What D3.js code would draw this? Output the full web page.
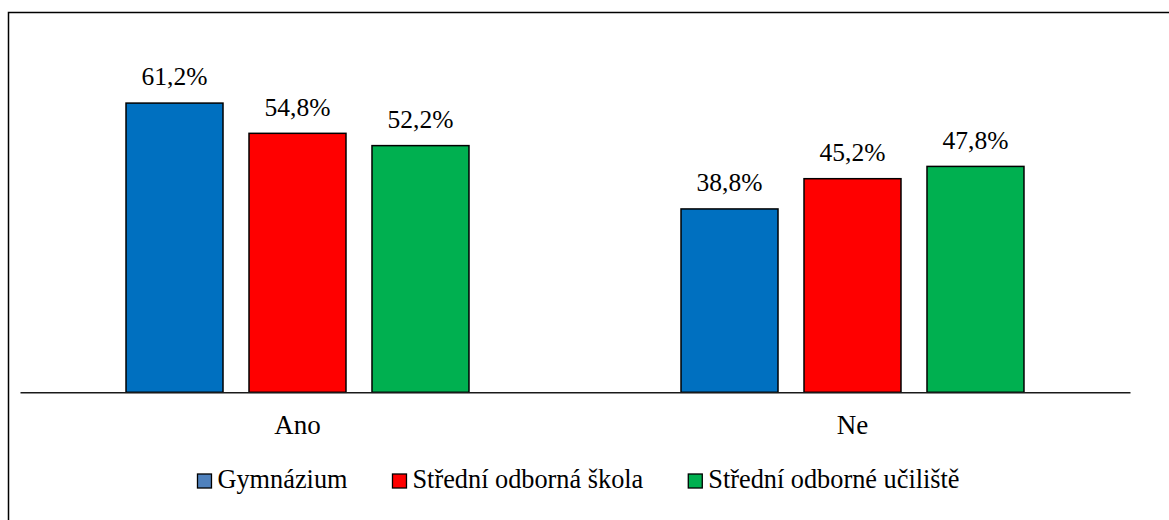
<!DOCTYPE html>
<html>
<head>
<meta charset="utf-8">
<script src="https://cdn.jsdelivr.net/npm/d3@7"></script>
</head>
<body style="margin:0;background:#fff">
<svg id="chart" width="1169" height="520" font-family="Liberation Serif" style="display:block"></svg>
<script>
const categories = ["Ano", "Ne"];
const seriesNames = ["Gymnázium", "Střední odborná škola", "Střední odborné učiliště"];
const gymnazium = [61.2, 38.8];
const sos = [54.8, 45.2];
const sou = [52.2, 47.8];
const valueLabels = [["61,2%", "38,8%"], ["54,8%", "45,2%"], ["52,2%", "47,8%"]];
const barColors = ["#0070C0", "#FF0000", "#00B050"];
const legendColors = ["#4F81BD", "#FF0000", "#00B050"];

const seriesValues = [gymnazium, sos, sou];
const FONT = "Liberation Serif";

const svg = d3.select("#chart");

// outer border (only left and top visible in frame)
svg.append("rect")
  .attr("x", 8.5).attr("y", 12.5)
  .attr("width", 1200).attr("height", 600)
  .attr("fill", "none").attr("stroke", "#000").attr("stroke-width", 1.5);

const plot = { left: 20, right: 1130, top: 61.5, bottom: 392.3 };

const x0 = d3.scaleBand().domain(categories).range([plot.left, plot.right]).padding(0);
const x1 = d3.scaleBand().domain(seriesNames).range([0, x0.bandwidth()])
  .paddingInner(26 / 123).paddingOuter(0.862);
const y = d3.scaleLinear().domain([0, 70]).range([plot.bottom, plot.top]);

const data = [];
seriesNames.forEach((s, si) => {
  categories.forEach((c, ci) => {
    data.push({ series: s, si, cat: c, value: seriesValues[si][ci], label: valueLabels[si][ci] });
  });
});

const g = svg.append("g");

g.selectAll("rect.bar").data(data).enter().append("rect")
  .attr("class", "bar")
  .attr("x", d => x0(d.cat) + x1(d.series))
  .attr("y", d => y(d.value))
  .attr("width", x1.bandwidth())
  .attr("height", d => y(0) - y(d.value))
  .attr("fill", d => barColors[d.si])
  .attr("stroke", "#000").attr("stroke-width", 1.5);

g.selectAll("text.val").data(data).enter().append("text")
  .attr("class", "val")
  .attr("x", d => x0(d.cat) + x1(d.series) + x1.bandwidth() / 2)
  .attr("y", d => y(d.value) - 17.8)
  .attr("text-anchor", "middle")
  .attr("font-family", FONT)
  .attr("font-size", 25.5)
  .attr("fill", "#000")
  .text(d => d.label);

// baseline axis
const xAxis = d3.axisBottom(x0).tickSize(0).tickPadding(0);
const axisG = svg.append("g").attr("transform", `translate(0,${y(0)})`).call(xAxis);
axisG.attr("font-family", FONT).attr("font-size", 27);
axisG.select(".domain").attr("stroke", "#1a1a1a").attr("stroke-width", 1.5);
axisG.selectAll(".tick text")
  .attr("font-family", FONT)
  .attr("font-size", 27)
  .attr("fill", "#000")
  .attr("dy", null)
  .attr("y", 42);

// legend
const legend = svg.append("g");
const sw = 14, swGap = 6, itemGap = 45, legendY = 474;
const items = legend.selectAll("g.item").data(seriesNames).enter().append("g").attr("class", "item");
items.append("rect")
  .attr("x", 0).attr("y", legendY)
  .attr("width", sw).attr("height", sw)
  .attr("fill", (d, i) => legendColors[i])
  .attr("stroke", "#000").attr("stroke-width", 1.3);
items.append("text")
  .attr("x", sw + swGap).attr("y", legendY + 14)
  .attr("font-family", FONT)
  .attr("font-size", 26.3)
  .attr("fill", "#000")
  .text(d => d);
let widths = [];
items.each(function () {
  widths.push(sw + swGap + d3.select(this).select("text").node().getComputedTextLength());
});
const total = d3.sum(widths) + itemGap * (widths.length - 1);
let cx = 578.5 - total / 2;
items.attr("transform", (d, i) => {
  const t = `translate(${cx},0)`;
  cx += widths[i] + itemGap;
  return t;
});
</script>
</body>
</html>
